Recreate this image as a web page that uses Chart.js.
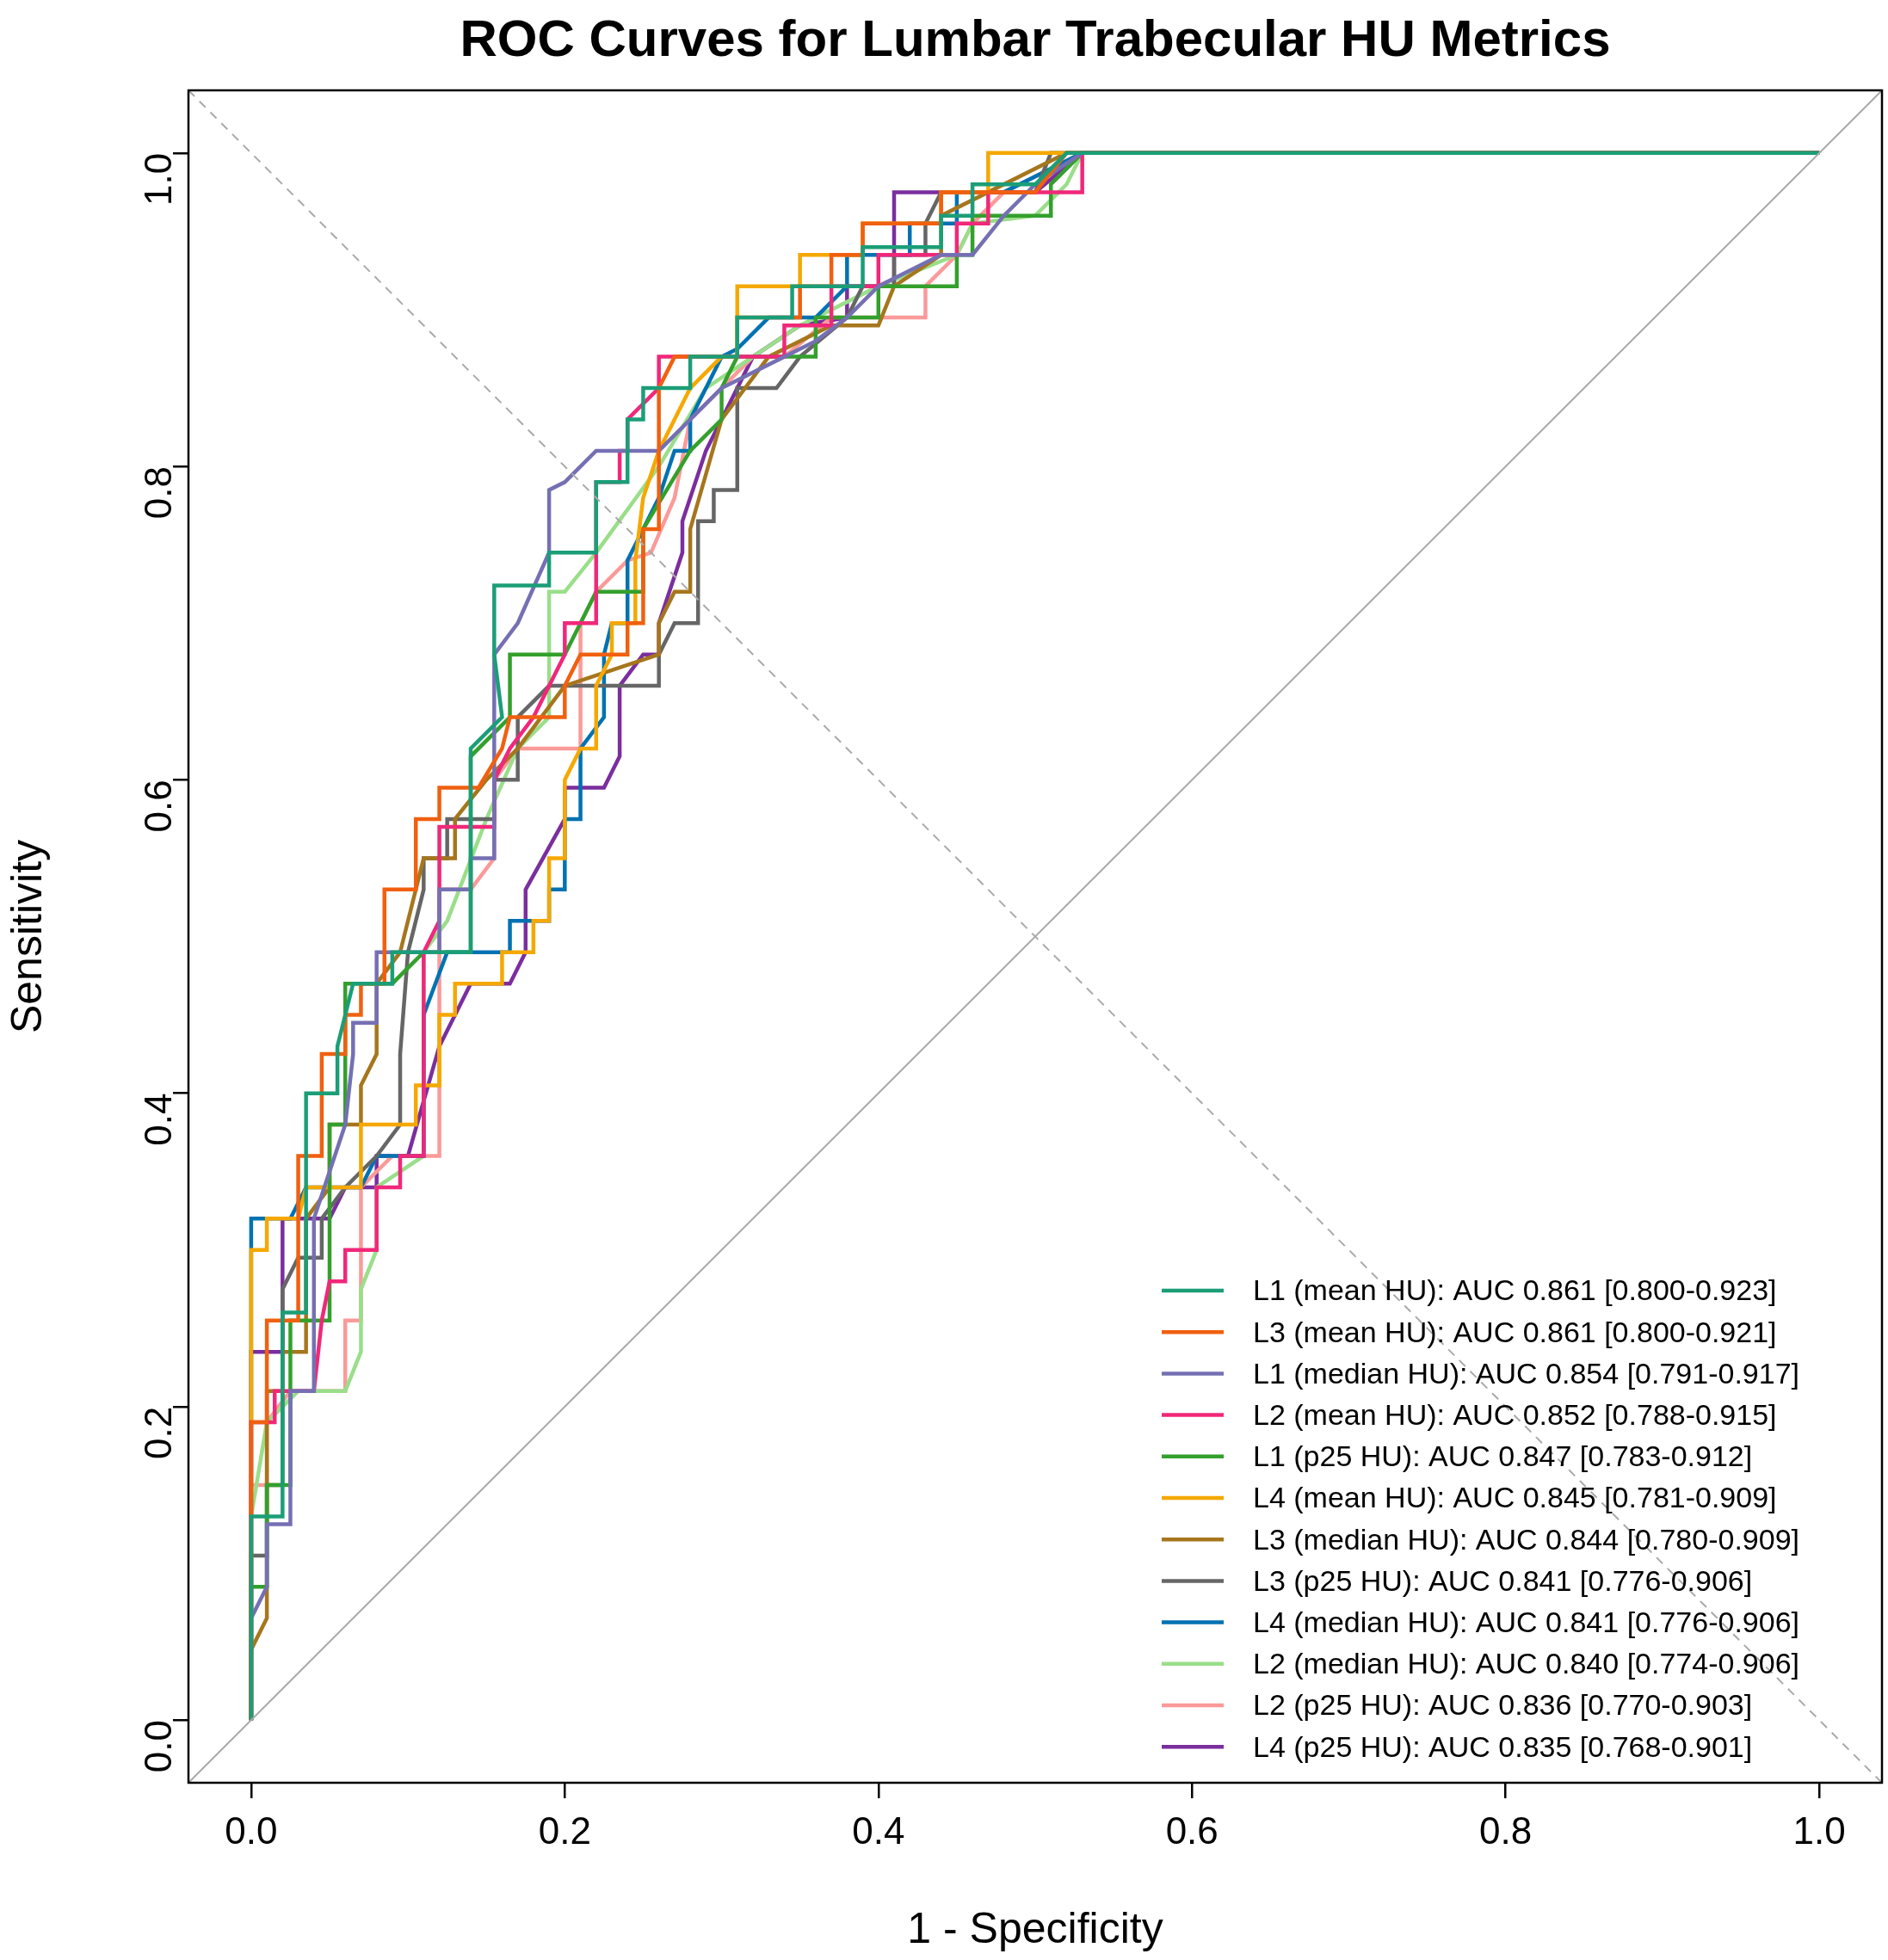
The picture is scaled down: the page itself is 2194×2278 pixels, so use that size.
<!DOCTYPE html>
<html><head><meta charset="utf-8">
<script src="https://cdn.jsdelivr.net/npm/chart.js@4/dist/chart.umd.min.js"></script>
<style>html,body{margin:0;padding:0;background:#fff}#c{display:block}</style>
</head><body>
<canvas id="c" width="2194" height="2278"></canvas>
<script>
const labels=["L1 (mean HU): AUC 0.861 [0.800-0.923]","L3 (mean HU): AUC 0.861 [0.800-0.921]","L1 (median HU): AUC 0.854 [0.791-0.917]","L2 (mean HU): AUC 0.852 [0.788-0.915]","L1 (p25 HU): AUC 0.847 [0.783-0.912]","L4 (mean HU): AUC 0.845 [0.781-0.909]","L3 (median HU): AUC 0.844 [0.780-0.909]","L3 (p25 HU): AUC 0.841 [0.776-0.906]","L4 (median HU): AUC 0.841 [0.776-0.906]","L2 (median HU): AUC 0.840 [0.774-0.906]","L2 (p25 HU): AUC 0.836 [0.770-0.903]","L4 (p25 HU): AUC 0.835 [0.768-0.901]"];
const colors=["#1B9E77","#F0600F","#7570B3","#F0287A","#33A02C","#F5A800","#A6761D","#666666","#0072B2","#9ADE8A","#FB9A99","#7B2E9E"];
const L1mean=[[0,0],[0,0.13],[0.02,0.13],[0.02,0.26],[0.035,0.26],[0.035,0.40],[0.055,0.40],[0.055,0.43],[0.065,0.47],[0.09,0.47],[0.09,0.49],[0.14,0.49],[0.14,0.62],[0.16,0.64],[0.155,0.68],[0.155,0.724],[0.19,0.724],[0.19,0.745],[0.22,0.745],[0.22,0.79],[0.24,0.79],[0.24,0.83],[0.25,0.83],[0.25,0.85],[0.28,0.85],[0.28,0.87],[0.31,0.87],[0.31,0.895],[0.345,0.895],[0.345,0.915],[0.39,0.915],[0.39,0.94],[0.44,0.94],[0.44,0.96],[0.46,0.96],[0.46,0.98],[0.5,0.98],[0.52,1],[1,1]];
const L3mean=[[0,0],[0,0.19],[0.01,0.19],[0.01,0.255],[0.03,0.255],[0.03,0.36],[0.045,0.36],[0.045,0.425],[0.06,0.425],[0.06,0.45],[0.07,0.45],[0.07,0.47],[0.085,0.47],[0.085,0.53],[0.105,0.53],[0.105,0.575],[0.12,0.575],[0.12,0.595],[0.145,0.595],[0.16,0.62],[0.165,0.64],[0.2,0.64],[0.2,0.66],[0.21,0.68],[0.24,0.68],[0.24,0.70],[0.25,0.70],[0.25,0.76],[0.26,0.76],[0.26,0.85],[0.27,0.87],[0.31,0.87],[0.31,0.895],[0.35,0.895],[0.35,0.915],[0.37,0.915],[0.37,0.935],[0.39,0.935],[0.39,0.955],[0.44,0.955],[0.44,0.975],[0.5,0.975],[0.52,1],[1,1]];
const L1median=[[0,0],[0,0.065],[0.01,0.085],[0.01,0.125],[0.025,0.125],[0.025,0.21],[0.04,0.21],[0.04,0.32],[0.06,0.38],[0.065,0.425],[0.065,0.445],[0.08,0.445],[0.08,0.49],[0.12,0.49],[0.12,0.53],[0.14,0.53],[0.14,0.55],[0.155,0.55],[0.155,0.68],[0.17,0.70],[0.19,0.745],[0.19,0.785],[0.2,0.79],[0.22,0.81],[0.26,0.81],[0.3,0.85],[0.34,0.87],[0.36,0.88],[0.38,0.895],[0.4,0.915],[0.44,0.935],[0.46,0.935],[0.48,0.96],[0.5,0.98],[0.53,1],[1,1]];
const L2mean=[[0,0],[0,0.19],[0.015,0.19],[0.015,0.21],[0.04,0.21],[0.045,0.255],[0.05,0.28],[0.06,0.28],[0.06,0.30],[0.08,0.30],[0.08,0.34],[0.095,0.34],[0.095,0.36],[0.11,0.36],[0.11,0.49],[0.12,0.51],[0.12,0.57],[0.155,0.57],[0.155,0.6],[0.165,0.62],[0.18,0.64],[0.2,0.68],[0.2,0.70],[0.22,0.70],[0.22,0.79],[0.235,0.79],[0.235,0.81],[0.24,0.81],[0.24,0.83],[0.26,0.85],[0.26,0.87],[0.34,0.87],[0.34,0.89],[0.37,0.89],[0.37,0.915],[0.4,0.915],[0.4,0.935],[0.45,0.935],[0.45,0.955],[0.47,0.955],[0.47,0.975],[0.53,0.975],[0.53,1],[1,1]];
const L1p25=[[0,0],[0,0.085],[0.01,0.085],[0.01,0.15],[0.025,0.15],[0.025,0.255],[0.05,0.255],[0.05,0.38],[0.06,0.38],[0.06,0.47],[0.09,0.47],[0.11,0.49],[0.14,0.49],[0.14,0.615],[0.165,0.64],[0.165,0.68],[0.2,0.68],[0.22,0.72],[0.25,0.72],[0.25,0.76],[0.28,0.81],[0.3,0.83],[0.3,0.85],[0.31,0.87],[0.36,0.87],[0.36,0.895],[0.4,0.895],[0.4,0.915],[0.45,0.915],[0.45,0.935],[0.46,0.935],[0.46,0.96],[0.51,0.96],[0.51,0.98],[0.53,1],[1,1]];
const L4mean=[[0,0],[0,0.30],[0.01,0.30],[0.01,0.32],[0.03,0.32],[0.035,0.34],[0.07,0.34],[0.07,0.38],[0.105,0.38],[0.105,0.405],[0.12,0.405],[0.12,0.45],[0.13,0.45],[0.13,0.47],[0.16,0.47],[0.16,0.49],[0.18,0.49],[0.18,0.51],[0.19,0.51],[0.19,0.55],[0.2,0.55],[0.2,0.6],[0.21,0.62],[0.22,0.62],[0.22,0.66],[0.23,0.68],[0.23,0.70],[0.245,0.70],[0.245,0.74],[0.25,0.78],[0.26,0.81],[0.28,0.85],[0.3,0.87],[0.31,0.87],[0.31,0.915],[0.35,0.915],[0.35,0.935],[0.39,0.935],[0.39,0.955],[0.44,0.955],[0.44,0.975],[0.47,0.975],[0.47,1],[1,1]];
const L3median=[[0,0],[0,0.045],[0.01,0.065],[0.01,0.21],[0.02,0.21],[0.02,0.235],[0.035,0.235],[0.035,0.32],[0.05,0.34],[0.05,0.38],[0.07,0.38],[0.07,0.405],[0.08,0.425],[0.08,0.47],[0.095,0.49],[0.1,0.51],[0.11,0.55],[0.13,0.55],[0.13,0.575],[0.15,0.60],[0.17,0.62],[0.2,0.66],[0.26,0.68],[0.26,0.70],[0.27,0.72],[0.28,0.72],[0.28,0.76],[0.3,0.83],[0.33,0.87],[0.37,0.89],[0.4,0.89],[0.41,0.915],[0.44,0.935],[0.44,0.96],[0.47,0.975],[0.52,1],[1,1]];
const L3p25=[[0,0],[0,0.105],[0.01,0.105],[0.01,0.15],[0.02,0.15],[0.02,0.275],[0.03,0.295],[0.045,0.295],[0.045,0.32],[0.06,0.34],[0.08,0.36],[0.095,0.38],[0.095,0.425],[0.1,0.49],[0.11,0.53],[0.11,0.55],[0.125,0.55],[0.125,0.575],[0.155,0.575],[0.155,0.6],[0.17,0.6],[0.17,0.64],[0.19,0.66],[0.26,0.66],[0.26,0.68],[0.27,0.70],[0.285,0.70],[0.285,0.765],[0.295,0.765],[0.295,0.785],[0.31,0.785],[0.31,0.85],[0.335,0.85],[0.35,0.87],[0.38,0.895],[0.39,0.915],[0.41,0.915],[0.41,0.935],[0.43,0.935],[0.43,0.955],[0.44,0.975],[0.5,0.975],[0.51,1],[1,1]];
const L4median=[[0,0],[0,0.32],[0.025,0.32],[0.035,0.34],[0.07,0.34],[0.08,0.36],[0.11,0.36],[0.11,0.45],[0.125,0.49],[0.165,0.49],[0.165,0.51],[0.19,0.51],[0.19,0.53],[0.2,0.53],[0.2,0.575],[0.21,0.575],[0.21,0.62],[0.225,0.64],[0.225,0.68],[0.23,0.70],[0.24,0.70],[0.24,0.74],[0.26,0.78],[0.27,0.81],[0.28,0.81],[0.28,0.83],[0.3,0.87],[0.31,0.875],[0.33,0.895],[0.36,0.895],[0.38,0.915],[0.38,0.935],[0.42,0.935],[0.42,0.955],[0.45,0.955],[0.45,0.975],[0.48,0.975],[0.53,1],[1,1]];
const L2median=[[0,0],[0,0.13],[0.01,0.19],[0.03,0.21],[0.06,0.21],[0.07,0.235],[0.07,0.275],[0.08,0.30],[0.08,0.34],[0.11,0.36],[0.11,0.49],[0.125,0.51],[0.15,0.575],[0.17,0.62],[0.19,0.64],[0.19,0.72],[0.2,0.72],[0.22,0.745],[0.26,0.80],[0.29,0.85],[0.32,0.87],[0.35,0.89],[0.4,0.915],[0.45,0.935],[0.46,0.955],[0.5,0.96],[0.52,0.98],[0.53,1],[1,1]];
const L2p25=[[0,0],[0,0.15],[0.01,0.15],[0.01,0.19],[0.025,0.21],[0.06,0.21],[0.06,0.255],[0.07,0.255],[0.07,0.34],[0.09,0.36],[0.12,0.36],[0.12,0.53],[0.14,0.53],[0.155,0.55],[0.155,0.6],[0.17,0.62],[0.21,0.62],[0.21,0.70],[0.22,0.72],[0.24,0.74],[0.255,0.745],[0.27,0.78],[0.28,0.83],[0.3,0.85],[0.32,0.87],[0.34,0.87],[0.37,0.895],[0.43,0.895],[0.43,0.915],[0.45,0.935],[0.46,0.955],[0.48,0.975],[0.53,1],[1,1]];
const L4p25=[[0,0],[0,0.235],[0.02,0.235],[0.02,0.32],[0.05,0.32],[0.06,0.34],[0.08,0.34],[0.08,0.36],[0.1,0.36],[0.12,0.43],[0.14,0.47],[0.165,0.47],[0.175,0.49],[0.175,0.53],[0.2,0.575],[0.2,0.595],[0.225,0.595],[0.235,0.615],[0.235,0.66],[0.25,0.68],[0.26,0.68],[0.26,0.70],[0.275,0.745],[0.275,0.765],[0.29,0.81],[0.3,0.83],[0.32,0.87],[0.35,0.89],[0.38,0.895],[0.38,0.915],[0.41,0.915],[0.41,0.975],[0.5,0.975],[0.53,1],[1,1]];
const series=[L1mean,L3mean,L1median,L2mean,L1p25,L4mean,L3median,L3p25,L4median,L2median,L2p25,L4p25];
const xTicks=[0,0.2,0.4,0.6,0.8,1.0];
const FONT="'Liberation Sans', Arial, sans-serif";

const datasets=[
 {label:'_diag',data:[{x:-0.04,y:-0.04},{x:1.04,y:1.04}],borderColor:'#aaaaaa',borderWidth:2,pointRadius:0},
 {label:'_anti',data:[{x:-0.04,y:1.04},{x:1.04,y:-0.04}],borderColor:'#aaaaaa',borderWidth:2,borderDash:[10,8],pointRadius:0}
];
series.forEach((s,i)=>datasets.push({label:labels[i],data:s.map(p=>({x:p[0],y:p[1]})),borderColor:colors[i],borderWidth:4.5,pointRadius:0,tension:0}));

const extras={id:'extras',
 afterDraw(ch){const c=ch.ctx,a=ch.chartArea;c.save();
  c.strokeStyle='#000';c.lineWidth=2.5;c.strokeRect(a.left,a.top,a.right-a.left,a.bottom-a.top);
  c.fillStyle='#000';c.font="bold 60px "+FONT;c.textAlign='center';c.textBaseline='middle';
  c.fillText('ROC Curves for Lumbar Trabecular HU Metrics',(a.left+a.right)/2,48);
  c.font="34px "+FONT;c.textAlign='left';
  labels.forEach((l,i)=>{const y=1500+i*48.2;c.strokeStyle=colors[i];c.lineWidth=4.5;
   c.beginPath();c.moveTo(1350,y);c.lineTo(1422,y);c.stroke();c.fillStyle='#000';c.fillText(l,1456,y+2);});
  c.restore();}};

new Chart(document.getElementById('c'),{type:'line',data:{datasets},
 options:{responsive:false,animation:false,devicePixelRatio:1,
  layout:{padding:{top:105,right:7,left:0,bottom:0}},
  plugins:{legend:{display:false},tooltip:{enabled:false}},
  scales:{
   x:{type:'linear',min:-0.04,max:1.04,afterFit:s=>{s.height=206},
    afterBuildTicks:s=>{s.ticks=xTicks.map(v=>({value:v}))},
    grid:{drawOnChartArea:false,tickLength:18,color:'#000',lineWidth:2.5},border:{display:false},
    ticks:{color:'#000',font:{size:44,family:FONT},padding:14,callback:v=>v.toFixed(1),maxRotation:0},
    title:{display:true,text:'1 - Specificity',color:'#000',font:{size:50,family:FONT},padding:{top:10}}},
   y:{type:'linear',min:-0.04,max:1.04,afterFit:s=>{s.width=219},
    afterBuildTicks:s=>{s.ticks=xTicks.map(v=>({value:v}))},
    grid:{drawOnChartArea:false,tickLength:18,color:'#000',lineWidth:2.5},border:{display:false},
    ticks:{color:'#000',font:{size:44,family:FONT},padding:14,callback:v=>v.toFixed(1),minRotation:90,maxRotation:90},
    title:{display:true,text:'Sensitivity',color:'#000',font:{size:50,family:FONT},padding:{bottom:10}}}
  }},plugins:[extras]});
</script></body></html>
